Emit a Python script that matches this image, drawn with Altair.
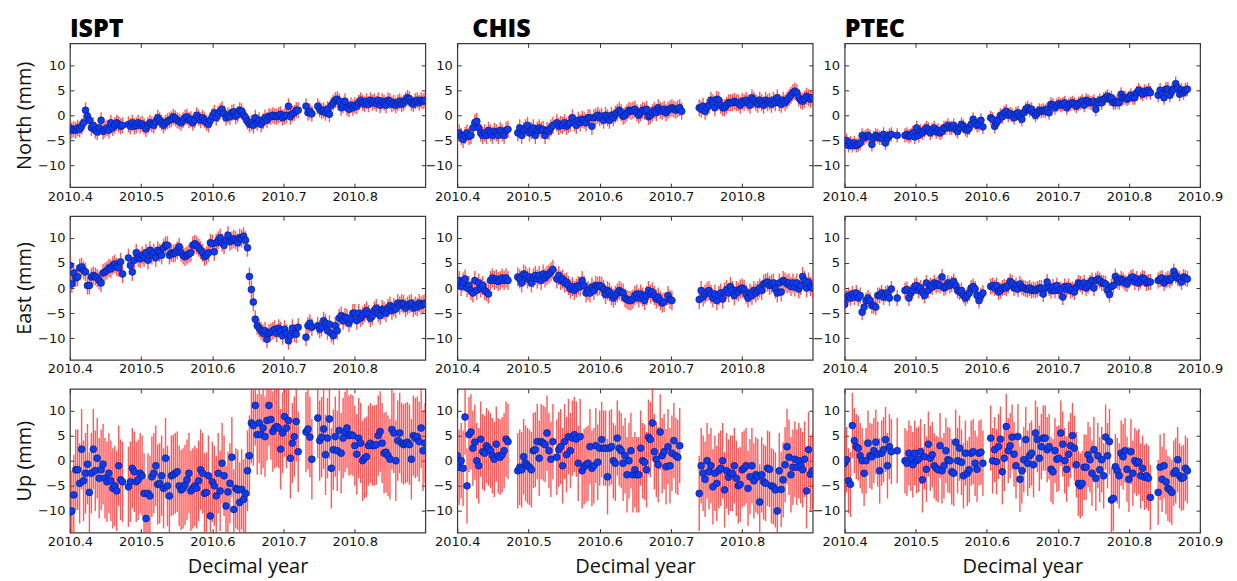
import altair as alt
import pandas as pd

N = None
T0 = 2010.4
DAYS_PER_YEAR = 365.0

STATIONS = ["ISPT", "CHIS", "PTEC"]
COMPONENTS = ["North", "East", "Up"]

# half-length of the error bars (mm), per station: North, East, Up
ERR = {"ISPT": [1.6, 1.8, 8.0], "CHIS": [1.7, 1.9, 7.5], "PTEC": [1.4, 1.6, 6.5]}

X_TICKS = {
    "ISPT": [2010.4, 2010.5, 2010.6, 2010.7, 2010.8],
    "CHIS": [2010.4, 2010.5, 2010.6, 2010.7, 2010.8],
    "PTEC": [2010.4, 2010.5, 2010.6, 2010.7, 2010.8, 2010.9],
}
X_DOMAIN = {"ISPT": [2010.4, 2010.899], "CHIS": [2010.4, 2010.899], "PTEC": [2010.4, 2010.9]}
Y_TICKS = [-10, -5, 0, 5, 10]
Y_DOMAIN = [-14.3, 14.3]

# daily solutions (mm), one value per day from 2010.4, None = no solution
ISPT_N = [
    -2.5, -3.0, -2.8, -3.0, -2.5, -2.8, -2.2, -1.5, 1.0, -0.2,
    -1.0, -2.5, -2.0, -3.0, -3.3, -2.5, -1.0, -3.2, -2.8, -2.5,
    -3.0, -1.5, -2.5, -2.0, -1.5, -1.8, -2.2, -2.0, N, N,
    -1.8, -2.2, -1.5, -2.2, -2.0, -1.5, -2.0, -1.7, -2.2, -2.7,
    -2.0, -1.5, -1.8, -2.0, -1.3, -0.5, -1.0, -1.5, -2.0, -1.5,
    -1.2, -1.0, -0.8, -0.3, -0.6, -1.0, -1.2, -1.5, -1.0, -0.5,
    -0.3, -1.0, -0.8, -1.5, -1.0, 0.0, -0.5, -1.0, -0.5, -1.0,
    -1.5, -1.8, -1.0, -0.2, 0.5, -0.5, 0.3, 0.8, 1.2, 0.3,
    -0.5, 0.0, -0.3, 0.5, 0.7, -0.2, 0.2, 1.0, 0.8, 0.0,
    -0.5, -1.2, -1.8, -1.5, -2.0, -0.5, -1.5, -1.0, -1.8, -1.2,
    -0.5, -1.0, -0.2, -0.3, 0.0, -0.2, -0.3, 0.0, 0.2, -0.5,
    -0.2, 0.0, 1.8, -0.3, 0.3, 0.5, 1.0, 1.0, N, N,
    N, 1.8, 0.5, 0.8, 0.3, N, N, 1.8, 1.2, 0.8,
    1.0, 0.5, 1.2, 0.2, 2.0, 2.5, 3.0, 3.2, 2.8, 1.5,
    2.0, 2.8, 1.5, 1.2, 2.0, 1.5, 2.0, 1.8, 2.5, 3.0,
    2.5, 2.2, 2.8, 2.2, 3.0, 2.5, 2.8, 2.3, 3.0, 2.0,
    2.8, 2.5, 2.0, 3.0, 2.8, 2.2, 2.5, 2.0, 2.5, 2.8,
    2.2, 2.5, 3.0, 3.5, 3.2, 2.5, 2.2, 2.8, 3.0, 2.5,
    3.0, 2.8, 3.0,
]
ISPT_E = [
    4.5, 0.8, 3.0, 2.0, 2.2, 4.0, 4.2, 3.5, 3.2, 0.5,
    0.5, 2.2, 2.5, 2.3, 2.0, 1.5, 1.0, 3.0, 3.2, 3.5,
    4.0, 3.8, 4.5, 4.8, 4.2, 4.0, 5.2, 2.8, N, N,
    6.0, 4.5, 3.2, 5.5, 7.0, 6.0, 5.8, 6.5, 6.0, 7.0,
    5.5, 7.5, 6.5, 7.0, 6.0, 7.5, 7.0, 6.5, 8.0, 8.5,
    8.5, 6.5, 7.0, 6.8, 7.0, 7.5, 8.2, 7.0, 6.5, 6.2,
    6.5, 6.8, 7.0, 8.5, 8.8, 8.5, 8.0, 7.5, 7.0, 6.2,
    6.5, 7.0, 9.0, 8.8, 7.2, 9.0, 9.5, 10.0, 9.0, 8.5,
    9.5, 10.5, 9.2, 9.5, 9.8, 9.5, 9.0, 10.0, 9.8, 10.3,
    9.5, 8.0, 2.3, -0.3, -2.8, -6.2, -7.5, -8.0, -8.5, -9.0,
    -8.5, -10.2, -9.0, -8.8, -8.5, -8.2, -9.0, -8.0, -8.5, -9.5,
    -8.2, -9.0, -10.5, -9.5, -8.0, -9.0, -9.2, -7.8, N, N,
    N, -9.8, -7.5, -7.0, -7.8, N, N, -7.5, -8.2, -7.8,
    -6.5, -7.0, -8.5, -7.2, -9.0, -9.5, -7.5, -8.5, -6.0, -5.5,
    -6.5, -5.8, -6.0, -7.0, -6.2, -5.0, -5.0, -6.5, -5.0, -6.0,
    -5.5, -5.0, -4.5, -5.2, -6.0, -5.5, -4.5, -4.0, -5.0, -5.5,
    -4.2, -4.5, -5.0, -4.0, -3.5, -4.5, -3.8, -4.2, -3.0, -3.5,
    -3.0, -3.2, -4.0, -3.5, -3.2, -3.0, -4.0, -3.5, -3.8, -3.0,
    -3.5, -3.2, -3.0,
]
ISPT_U = [
    -10.2, -10.0, -6.8, -1.8, -1.8, -4.5, 2.3, -4.0, -2.5, -0.7,
    -6.3, -2.5, 2.3, -2.0, 0.5, -3.5, -1.8, -0.7, -3.5, -4.2,
    -2.5, -4.0, -5.5, -5.0, -6.0, -1.0, -3.8, -4.2, N, N,
    -5.2, -4.2, -1.5, -2.2, -4.2, -3.8, -2.5, -3.0, -6.5, -11.5,
    -6.5, -7.0, -3.2, -2.5, -1.0, -4.7, -4.5, -3.0, -5.5, 0.5,
    -5.0, -7.0, -3.0, -2.8, -2.5, -2.2, -5.0, -5.8, -5.5, -4.8,
    -3.8, -2.5, -6.0, -5.5, -5.0, -5.5, -4.0, -1.8, -2.5, -6.5,
    -6.3, -3.0, -11.0, -4.2, -5.0, -7.0, -2.5, -6.0, -0.5, -3.0,
    -9.0, -6.2, -4.5, 0.7, -9.7, -5.5, -5.8, -8.3, -5.7, -7.7,
    -6.5, -2.0, 1.0, 7.5, 7.0, 11.0, 5.2, 7.5, 5.2, 6.5,
    4.8, 8.0, 11.0, 8.2, 5.8, 6.5, 6.8, 6.5, 2.3, 5.5,
    8.8, 6.5, 8.0, 0.5, 3.5, 4.8, 7.8, 1.8, N, N,
    N, 5.7, 6.3, 4.7, 0.3, N, N, 8.5, 4.0, 4.7,
    6.3, 1.2, 4.5, 8.3, -1.5, 2.2, 4.8, 2.0, 6.0, 1.5,
    4.5, 5.7, 6.5, 5.0, 5.2, 5.0, 3.0, 1.3, 4.5, 3.5,
    0.0, 0.5, 0.8, 3.0, 3.5, 3.0, 3.0, 3.2, 5.0, 5.8,
    3.5, 1.5, 1.7, 1.0, 0.3, 6.2, 5.5, 0.0, 4.0, 5.5,
    3.5, 3.2, 3.5, 3.7, 3.2, 0.3, 5.0, 4.5, 4.8, 3.8,
    6.5, 2.0, 3.5,
]

CHIS_N = [
    -4.0, -3.5, -4.2, -4.8, -4.0, -3.5, -4.2, -4.0, -2.5, -1.5,
    -1.2, -2.5, -3.5, -4.0, -3.5, -4.0, -3.0, -3.5, -4.0, -3.2,
    -3.5, -4.0, -3.0, -3.5, -4.0, -3.0, -2.8, N, N, N,
    N, -3.5, -2.5, -4.0, -3.0, -2.5, -2.0, -3.5, -3.0, -2.5,
    -4.0, -3.0, -2.5, -3.0, -2.8, -4.0, -3.0, -3.2, -2.5, -2.0,
    N, -1.5, -2.2, -1.8, -2.0, -1.5, -2.2, -1.8, -1.5, -0.5,
    -1.5, -2.0, -1.0, -1.5, -0.8, -1.0, -1.5, -0.5, -0.5, -2.2,
    -0.5, -0.3, 0.0, -0.5, -0.2, -1.0, 0.0, -0.5, -1.0, 0.0,
    -0.5, 0.2, 0.5, 1.0, 0.5, -0.2, 0.0, 0.5, 1.0, 0.8,
    1.0, 1.2, 0.5, 0.0, 0.5, 1.0, 0.8, 1.2, -0.3, 0.0,
    0.5, 1.0, 0.5, 1.5, 1.0, 0.8, 1.2, 0.5, 1.0, 1.3,
    1.5, 1.2, 1.0, 1.3, 1.5, 0.8, N, N, N, N,
    N, N, N, N, 1.5, 1.2, 1.8, 0.8, 1.5, 2.0,
    3.0, 2.5, 1.5, 3.2, 3.0, 2.0, 1.5, 1.5, 2.0, 2.5,
    2.5, 2.5, 2.8, 2.5, 2.5, 2.0, 2.8, 2.5, 3.0, 2.5,
    2.0, 3.5, 3.0, 2.5, 2.2, 3.0, 2.5, 2.0, 3.0, 2.5,
    2.8, 2.2, 3.0, 2.5, 3.5, 2.5, 2.2, 3.0, 2.5, 3.0,
    3.5, 4.0, 4.5, 4.8, 4.5, 3.5, 3.0, 2.8, 3.2, 3.8,
    3.5, 3.2, 3.5,
]
CHIS_E = [
    0.5, 1.5, 0.3, 1.2, 1.8, 0.0, 0.5, -0.5, -1.0, 1.5,
    -0.5, 1.0, 0.0, 0.5, -0.5, -0.8, -1.2, 1.5, 2.0, 1.5,
    1.8, 1.3, 1.5, 2.0, 1.5, 2.0, 1.5, N, N, N,
    N, 2.2, 1.8, 1.0, 2.8, 2.5, 1.8, 2.2, 1.0, 2.0,
    2.5, 1.8, 2.5, 1.5, 2.8, 2.0, 2.5, 2.8, 3.2, 3.7,
    N, 1.8, 2.5, 1.5, 1.8, 1.0, 1.2, 0.5, -0.2, 0.3,
    -0.5, 0.0, 0.5, 0.2, 1.5, 0.5, -1.0, -0.5, -1.0, 0.2,
    -0.5, 0.5, 0.3, 0.5, 0.3, -0.3, -1.3, -0.5, -0.8, -1.5,
    -2.0, -1.5, -1.0, -0.5, -0.8, -1.0, -2.0, -2.3, -2.5, -2.5,
    -2.2, -1.5, -1.2, -2.0, -1.2, -1.8, -2.5, -1.5, -0.5, -1.2,
    -0.8, -1.5, -2.2, -1.8, -2.5, -3.0, -2.8, N, -1.5, -2.3,
    -2.5, N, N, N, N, N, N, N, N, N,
    N, N, N, N, -2.3, -0.5, -1.8, -1.2, -0.8, -0.5,
    -1.2, -2.0, -1.2, -2.5, -1.5, -1.0, -2.2, -0.8, -0.3, -1.0,
    0.3, -0.5, -1.5, -0.5, -0.8, -0.2, 0.0, -0.3, -1.2, -2.0,
    -1.0, -1.5, -0.5, -1.0, -0.5, 0.0, -0.5, 0.8, 1.0, 1.2,
    0.5, 0.8, 1.0, -0.2, -1.0, 1.0, -0.8, 1.5, 1.2, 0.8,
    1.0, 0.3, 1.0, 0.2, 1.0, -0.2, 0.5, 2.3, 1.5, 0.0,
    1.2, 0.3, 0.0,
]
CHIS_U = [
    1.0, -1.3, 0.0, -1.5, 8.7, -5.0, 5.2, 5.7, 2.5, 3.7,
    0.0, -1.0, 4.3, 1.8, 1.5, 3.0, 2.5, 2.0, 1.0, 0.3,
    3.3, 1.0, 0.7, 1.2, 2.0, 4.3, 3.8, N, N, N,
    N, -2.0, -1.3, -1.8, 0.8, -0.5, -1.0, -1.3, -1.8, 2.0,
    2.2, 3.8, 0.5, 3.8, 3.5, 3.2, 5.5, 2.0, 0.3, 3.8,
    N, 0.7, 2.2, 2.8, -1.0, 3.8, 1.2, 4.8, 2.0, 4.5,
    5.2, 4.3, -0.5, 4.8, -2.0, -1.2, -0.8, -0.5, 2.8, -1.5,
    -1.0, 3.0, -0.3, 2.5, 4.2, 2.5, 2.5, -3.2, 2.5, 2.8,
    0.0, -0.5, 4.5, 2.5, 2.0, -0.5, 1.0, -2.8, 0.0, 2.0,
    -2.8, -1.8, -2.8, -2.8, 2.5, 0.0, -0.3, -1.8, 4.7, 4.2,
    7.5, 1.8, 0.3, -0.8, 5.7, 1.0, 1.8, -1.2, 2.8, -1.0,
    1.5, 4.0, 1.0, 0.7, 3.0, N, N, N, N, N,
    N, N, N, N, -6.5, -1.0, -2.5, -3.7, 0.0, -2.2,
    -1.0, -5.2, -2.5, -4.5, -2.0, -1.5, 0.0, -5.8, -2.0, -3.3,
    -2.5, -2.5, -1.0, -3.5, -5.0, -4.7, -1.8, -1.5, -1.0, -5.5,
    -3.2, -1.0, -4.0, -2.8, -3.2, -8.2, -2.8, -4.2, -4.5, -1.5,
    -1.7, -5.0, -5.2, -5.8, -10.0, -2.0, -5.7, -3.8, -0.8, 2.8,
    0.7, -2.8, -1.3, 0.3, -1.3, 0.0, -1.0, -1.8, 0.3, -6.0,
    2.2, -2.7, -2.0,
]

PTEC_N = [
    -5.5, -5.0, -6.0, -5.5, -6.0, -5.5, -6.0, -5.8, -5.5, -4.0,
    -4.5, -4.2, -4.0, -4.3, -5.8, -4.5, -4.0, -4.2, -4.5, -4.5,
    -3.8, -5.5, -4.5, -4.0, -3.8, N, N, -4.0, N, N,
    N, -4.0, -3.8, -4.2, -4.0, -3.5, -4.3, -2.5, -4.0, -3.2,
    -3.5, -3.0, -2.5, -2.8, -3.5, -3.0, -2.5, -3.3, -3.0, -3.5,
    -3.2, -2.5, -2.5, -2.0, -2.5, -2.5, -2.0, -2.8, -3.2, -2.5,
    -1.8, -2.2, -2.8, -3.0, -2.5, -1.8, -0.8, -1.5, -2.0, -1.8,
    -1.0, -2.3, N, N, N, -0.5, -0.8, -2.2, -1.5, -1.0,
    0.0, -0.3, 0.5, 0.8, 0.0, 0.3, 0.0, -0.5, 0.3, 0.5,
    -0.3, -0.8, 0.5, 1.2, 1.5, 1.0, 1.2, 0.5, 0.0, 0.5,
    1.0, 0.8, 1.0, 0.8, 1.2, 0.5, 2.2, 2.0, 1.5, 2.0,
    2.3, 2.0, 2.2, 2.5, 1.5, 2.0, 2.3, 2.5, 2.2, 1.8,
    2.3, 2.5, 2.8, 2.0, 3.0, 2.8, 2.5, 2.5, 2.8, 1.2,
    2.5, 3.0, 2.5, 3.2, 3.5, 3.8, 3.2, 3.5, 2.5, 2.5,
    2.8, 2.5, 4.2, 3.5, 3.5, 3.2, 3.5, 4.0, 3.5, 3.5,
    4.5, 5.0, 4.5, 4.2, 4.8, 4.5, 5.0, 4.5, N, N,
    N, 4.0, 5.0, 4.2, 3.5, 5.2, 5.2, 4.0, 4.8, 5.2,
    6.3, 5.5, 4.2, 5.0, 4.5, 5.0, 5.2,
]
PTEC_E = [
    -3.3, -2.0, -1.5, -2.0, -1.2, -1.8, -1.0, -2.0, -1.5, -4.8,
    -3.8, -2.5, -2.0, -2.5, -3.5, -3.5, -3.8, -1.5, -1.5, -1.0,
    -1.8, -1.2, -1.0, -2.0, -0.2, N, N, -2.0, N, N,
    N, -0.5, -0.3, -2.0, -1.0, -0.5, 0.3, 0.5, -0.5, 0.0,
    -0.8, -1.5, 1.0, -0.5, 0.5, 0.2, 1.0, 0.5, 0.8, 0.5,
    2.2, 0.0, 0.3, 1.0, 0.5, 0.8, 1.3, 0.5, -0.5, -0.8,
    -0.5, -1.5, -2.0, -1.5, -1.0, 0.0, 0.3, -0.2, -1.5, -2.5,
    -1.5, -1.0, N, N, N, 0.3, 0.5, 0.0, 0.5, -0.8,
    -0.5, 0.0, 0.2, 0.0, 0.5, 1.3, 1.0, 0.0, 0.5, -0.2,
    0.8, 0.2, 0.0, -0.2, -0.3, 0.0, -0.5, -0.3, -0.5, -0.2,
    0.0, 0.0, -1.2, 0.0, 1.2, 0.0, -0.5, 0.2, -0.5, 0.5,
    -0.5, -0.3, -1.8, 0.3, -0.3, 0.3, -0.5, -0.3, -0.8, 0.2,
    1.0, 0.8, 0.3, 1.0, 0.0, 0.5, 1.0, 1.5, 0.0, 1.5,
    1.8, 1.5, 1.0, 1.0, 0.8, -0.5, -1.3, 0.3, 0.5, 2.3,
    1.5, 1.2, 1.8, 1.5, 1.0, 0.8, 1.5, 2.0, 2.2, 1.2,
    1.8, 1.0, 1.5, 2.0, 1.8, 1.0, 1.2, 1.2, N, N,
    N, 1.5, 1.8, 2.0, 1.0, 1.5, 1.8, 1.5, 2.0, 3.3,
    2.5, 2.0, 1.8, 1.2, 2.2, 2.0, 1.8,
]
PTEC_U = [
    -0.5, 0.2, -4.0, -4.7, 7.0, 4.0, 2.8, 2.5, 1.0, 0.0,
    -2.5, 0.0, 3.5, 1.0, 0.8, 2.0, 3.7, 1.3, -2.0, 1.5,
    2.2, 4.2, -1.0, 2.8, 1.8, N, N, 2.0, N, N,
    N, 0.0, -0.5, 1.5, 0.5, -0.8, 1.5, 0.0, 0.3, 1.8,
    -3.8, 0.8, -1.7, 3.3, 0.5, 1.2, -1.0, -1.5, -1.8, 3.0,
    -2.0, -1.0, 2.0, 0.2, 0.0, -2.2, -2.5, 3.7, 0.0, 2.5,
    -0.3, -3.0, 1.5, -2.5, -1.8, 1.5, 1.8, -0.5, -1.7, 1.5,
    1.7, -0.5, N, N, N, 4.5, 0.0, 2.2, -0.2, 2.8,
    4.3, -2.2, 0.5, 6.8, 2.0, 3.0, 4.7, 1.3, -1.0, 4.8,
    -3.7, -2.0, 0.2, 4.2, -0.5, 1.0, 1.5, -0.8, 5.5, 4.2,
    0.5, 2.8, 4.5, 4.5, 2.2, 2.8, -1.7, -2.2, 2.0, 0.3,
    0.5, 5.5, 3.3, 0.0, -1.7, 1.3, 3.0, 5.0, 2.5, -0.8,
    -4.5, -5.0, -4.5, -1.3, -1.3, 1.2, 0.2, -2.5, 2.2, -3.5,
    1.0, -1.8, 0.2, -3.0, 4.7, 1.0, 3.8, -7.8, -7.5, -1.2,
    -2.0, -3.0, 1.5, 0.8, 2.0, -1.7, -3.7, 1.8, -2.5, 0.0,
    -0.5, -0.2, -3.0, -1.5, -3.3, -3.0, -3.5, -7.3, N, N,
    N, -6.3, -1.3, -3.7, -1.0, -4.2, -5.5, -5.8, -6.3, -2.5,
    -2.0, 0.2, -3.0, -3.5, -3.3, -1.5, -2.0,
]

SERIES = {
    ("ISPT", "North"): ISPT_N, ("ISPT", "East"): ISPT_E, ("ISPT", "Up"): ISPT_U,
    ("CHIS", "North"): CHIS_N, ("CHIS", "East"): CHIS_E, ("CHIS", "Up"): CHIS_U,
    ("PTEC", "North"): PTEC_N, ("PTEC", "East"): PTEC_E, ("PTEC", "Up"): PTEC_U,
}

rows = []
for st in STATIONS:
    for k, comp in enumerate(COMPONENTS):
        err = ERR[st][k]
        for i, v in enumerate(SERIES[(st, comp)]):
            if v is None:
                continue
            rows.append({"station": st, "comp": comp, "t": T0 + i / DAYS_PER_YEAR,
                         "v": v, "lo": v - err, "hi": v + err})
df = pd.DataFrame(rows)

TITLE_DX = {"ISPT": 0, "CHIS": 15, "PTEC": 0}
TICK = dict(ticks=True, tickSize=4, offset=-4, tickColor="#333333", tickWidth=1)


def panel(st, comp, r, c):
    sub = df[(df.station == st) & (df.comp == comp)]
    xs = alt.Scale(domain=X_DOMAIN[st], nice=False, zero=False)
    ys = alt.Scale(domain=Y_DOMAIN, nice=False, zero=False)
    # labelled axes (bottom, left) with inward ticks
    xa = alt.Axis(values=X_TICKS[st], format=".1f", labelFlush=False,
                  title="Decimal year" if r == 2 else None, **TICK)
    ya = alt.Axis(values=Y_TICKS, labelFlush=False,
                  title=f"{comp} (mm)" if c == 0 else None, **TICK)
    # tick-only axes (top, right)
    xt = alt.Axis(orient="top", values=X_TICKS[st], labels=False, title=None, **TICK)
    yr = alt.Axis(orient="right", values=Y_TICKS, labels=False, title=None, **TICK)
    base = alt.Chart(sub)
    bars = base.mark_rule(color="#ff2020", opacity=0.75, strokeWidth=1.4, clip=True).encode(
        x=alt.X("t:Q", scale=xs, axis=xa),
        y=alt.Y("lo:Q", scale=ys, axis=ya),
        y2="hi:Q",
    )
    dots = base.mark_point(shape="circle", filled=True, fill="#0d3bf2", stroke="#08186e",
                           strokeWidth=0.6, opacity=1, size=48, clip=True).encode(
        x=alt.X("t:Q", scale=xs, axis=xt),
        y=alt.Y("v:Q", scale=ys, axis=yr),
    )
    props = {"width": 356, "height": 144}
    if r == 0:
        props["title"] = alt.TitleParams(text=st, anchor="start", frame="group", font="Open Sans",
                                         fontSize=25, fontWeight=800, color="black",
                                         offset=1, dx=TITLE_DX[st])
    return (alt.layer(bars, dots)
            .resolve_axis(x="independent", y="independent")
            .properties(**props))


panels = []
for r, comp in enumerate(COMPONENTS):
    for c, st in enumerate(STATIONS):
        panels.append(panel(st, comp, r, c))

chart = alt.concat(*panels, columns=3, spacing={"row": 29, "column": 32}, bounds="flush")

chart = (
    chart.properties(padding={"left": 5, "top": 7, "right": 5, "bottom": 0})
    .configure_view(stroke="#3a3a3a", strokeWidth=1.2)
    .configure_axis(grid=False, domain=False, labelFont="DejaVu Sans",
                    labelFontSize=13, labelColor="#111111", titleFont="Open Sans",
                    titleFontSize=20, titleFontWeight="normal", titleColor="#111111")
    .configure_axisX(labelPadding=3, titlePadding=8)
    .configure_axisY(labelPadding=5, titlePadding=3)
)

chart.save("out.html", embed_options={"renderer": "svg", "actions": False})
